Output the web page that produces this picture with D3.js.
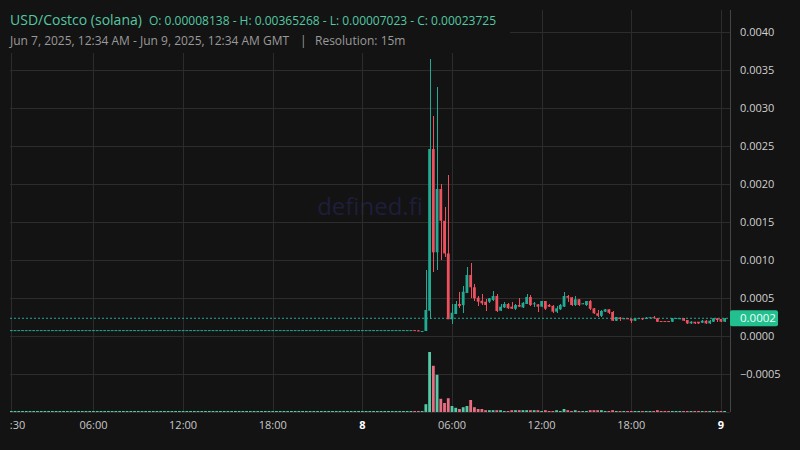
<!DOCTYPE html>
<html><head><meta charset="utf-8">
<script src="https://cdn.jsdelivr.net/npm/d3@7/dist/d3.min.js"></script>
<style>
html,body{margin:0;padding:0;background:#131313;}
svg{display:block;font-family:"Open Sans","Noto Sans",sans-serif;}
</style></head>
<body><svg id="c" width="800" height="450"></svg>
<script>
// ---- DATA ----
const startTime = Date.UTC(2025, 5, 7, 0, 30); // first 15m bar
const barMinutes = 15;
// flat (doji) bars, index 0..110: close values
const flatClose = [
0.0000814,0.0000814,0.0000814,0.0000814,0.0000814,0.0000814,0.0000814,0.0000814,0.0000814,0.0000814,
0.0000814,0.0000814,0.0000814,0.0000814,0.0000814,0.0000814,0.0000814,0.0000814,0.0000814,0.0000814,
0.0000814,0.0000814,0.0000814,0.0000814,0.0000814,0.0000814,0.0000814,0.0000814,0.0000814,0.0000814,
0.0000814,0.0000814,0.0000814,0.0000814,0.0000814,0.0000814,0.0000814,0.0000814,0.0000814,0.0000814,
0.0000814,0.0000814,0.0000814,0.0000814,0.0000814,0.0000814,0.0000814,0.0000814,0.0000814,0.0000814,
0.0000814,0.0000814,0.0000814,0.0000814,0.0000814,0.0000814,0.0000814,0.0000814,0.0000814,0.0000814,
0.0000814,0.0000814,0.0000814,0.0000814,0.0000814,0.0000814,0.0000814,0.0000814,0.0000814,0.0000814,
0.0000814,0.0000814,0.0000814,0.0000814,0.0000814,0.0000814,0.0000814,0.0000814,0.0000814,0.0000814,
0.0000814,0.0000814,0.0000814,0.0000814,0.0000814,0.0000814,0.0000814,0.0000814,0.0000814,0.0000814,
0.0000814,0.0000814,0.0000814,0.0000814,0.0000814,0.0000814,0.0000814,0.0000814,0.0000814,0.0000814,
0.0000814,0.0000814,0.0000814,0.0000814,0.0000814,0.0000814,0.0000814,0.0000814,0.0000770,0.0000702,
0.0000702
];
// active bars, index 111..191
const opens = [
0.00007,0.000337,0.002464,0.001105,0.001938,0.00152,0.00109,0.000224,0.000293,0.000425,
0.00041,0.00057,0.000807,0.000645,0.000508,0.000468,0.000455,0.000455,0.000478,0.00053,
0.000337,0.00038,0.000425,0.00039,0.000363,0.000412,0.00038,0.000425,0.000517,0.000428,
0.00042,0.00039,0.000464,0.000412,0.0004,0.000324,0.000355,0.00039,0.00053,0.000513,
0.000412,0.000487,0.000425,0.000412,0.000464,0.000368,0.000303,0.00027,0.000324,0.000355,
0.00032,0.000205,0.000245,0.000228,0.000237,0.000228,0.000205,0.000232,0.000237,0.000228,
0.00024,0.00025,0.000237,0.000201,0.000201,0.000201,0.000192,0.000232,0.000236,0.000237,
0.000214,0.00017,0.000192,0.000192,0.000179,0.000205,0.00017,0.000192,0.000237,0.000228,
0.000192
];
const highs = [
0.00087,0.00365268,0.002899,0.003284,0.002,0.0017,0.00212,0.00042,0.00047,0.000587,
0.00066,0.00091,0.00097,0.00069,0.00053,0.000557,0.00049,0.00051,0.0006,0.000557,
0.000425,0.00045,0.000434,0.00045,0.00042,0.0005,0.000455,0.000557,0.00054,0.000455,
0.00043,0.00047,0.00047,0.00042,0.00041,0.0004,0.00042,0.00058,0.00054,0.00052,
0.00053,0.00049,0.00044,0.00047,0.000478,0.00037,0.000346,0.00034,0.00036,0.00036,
0.00033,0.00026,0.00025,0.00024,0.00024,0.00023,0.00024,0.000245,0.00024,0.00025,
0.000255,0.000267,0.00024,0.000202,0.000202,0.000202,0.00024,0.000242,0.00024,0.00024,
0.000216,0.000195,0.000194,0.000194,0.00021,0.000208,0.00021,0.00024,0.00024,0.00023,
0.000245
];
const lows = [
0.00007023,0.000224,0.00085,0.000872,0.001004,0.00104,0.000224,0.00016,0.00029,0.00037,
0.00031,0.00057,0.0005,0.00046,0.0004,0.000412,0.000337,0.00044,0.00047,0.00032,
0.00033,0.00037,0.00036,0.00036,0.00035,0.00038,0.00037,0.00042,0.0004,0.00039,
0.000324,0.00038,0.00035,0.00038,0.00031,0.00031,0.00035,0.00038,0.000455,0.0004,
0.0004,0.0004,0.00042,0.0004,0.00035,0.00029,0.00026,0.00026,0.00032,0.0003,
0.000197,0.0002,0.000205,0.000225,0.000225,0.000179,0.0002,0.00023,0.00022,0.000225,
0.000238,0.000235,0.00019,0.000199,0.000199,0.000199,0.00019,0.00023,0.000234,0.0002,
0.000168,0.000168,0.000168,0.000168,0.000177,0.000168,0.000168,0.00019,0.000192,0.000192,
0.00019
];
const closes = [
0.000346,0.002464,0.001105,0.001938,0.00152,0.00109,0.000224,0.00031,0.000425,0.0004,
0.000587,0.000807,0.000645,0.0005,0.000455,0.000434,0.000412,0.0005,0.00053,0.000333,
0.00039,0.000425,0.00037,0.000363,0.000412,0.00039,0.00044,0.000517,0.000412,0.000434,
0.00039,0.000464,0.000363,0.00039,0.000324,0.000368,0.000412,0.00053,0.000508,0.000412,
0.000487,0.000412,0.000434,0.000464,0.000363,0.000303,0.00027,0.000333,0.000355,0.00031,
0.000205,0.000254,0.000228,0.000237,0.000228,0.000205,0.000237,0.00024,0.000224,0.000245,
0.00025,0.000237,0.000192,0.0002,0.0002,0.0002,0.000237,0.00024,0.000237,0.000205,
0.00017,0.000192,0.00017,0.00017,0.000205,0.00017,0.000205,0.000237,0.000214,0.000192,
0.00023725
];
// volume (relative units), index 0..191
const volumes = [
1.7,1.7,1.7,1.7,1.7,1.7,1.7,1.7,1.7,1.7,1.7,1.7,1.7,1.7,1.7,1.7,1.7,1.7,1.7,1.7,
1.7,1.7,1.7,1.7,1.7,1.7,1.7,1.7,1.7,1.7,1.7,1.7,1.7,1.7,1.7,1.7,1.7,1.7,1.7,1.7,
1.7,1.7,1.7,1.7,1.7,1.7,1.7,1.7,1.7,1.7,1.7,1.7,1.7,1.7,1.7,1.7,1.7,1.7,1.7,1.7,
1.7,1.7,1.7,1.7,1.7,1.7,1.7,1.7,1.7,1.7,1.7,1.7,1.7,1.7,1.7,1.7,1.7,1.7,1.7,1.7,
1.7,1.7,1.7,1.7,1.7,1.7,1.7,1.7,1.7,1.7,1.7,1.7,1.7,1.7,1.7,1.7,1.7,1.7,1.7,1.7,
1.7,1.7,1.7,1.7,1.7,1.7,1.7,1.7,1.7,1.7,1.7,
13,100,77,62,22,15,23,10,7,5,8,10,20,8,5,5,3,3,3,3,
3,1.7,1.7,3,3,3,3,3,3,3,3,1.7,3,1.7,1.7,3,1.7,5,3,1.7,
3,1.7,1.7,1.7,3,3,3,3,1.7,1.7,3,1.7,1.7,1.7,1.7,1.7,1.7,1.7,1.7,1.7,
1.7,1.7,3,1.7,1.7,1.7,1.7,1.7,1.7,1.7,1.7,1.7,1.7,1.7,1.7,1.7,1.7,1.7,1.7,1.7,
1.7
];
const yTicks = [-0.0005,0,0.0005,0.001,0.0015,0.002,0.0025,0.003,0.0035,0.004];
const xTicks = [Date.UTC(2025,5,7,0,30),Date.UTC(2025,5,7,6),Date.UTC(2025,5,7,12),Date.UTC(2025,5,7,18),
  Date.UTC(2025,5,8,0),Date.UTC(2025,5,8,6),Date.UTC(2025,5,8,12),Date.UTC(2025,5,8,18),Date.UTC(2025,5,9,0)];
const xTickLabels = ["00:30","06:00","12:00","18:00","8","06:00","12:00","18:00","9"];
const lastPrice = 0.00023725;
const lastPriceLabel = "0.0002";

// ---- BUILD ----
const candles = [];
flatClose.forEach((c, i) => {
  const o = i === 0 ? c : flatClose[i-1];
  candles.push({i, o, h: Math.max(o,c), l: Math.min(o,c), c});
});
closes.forEach((c, k) => {
  candles.push({i: flatClose.length + k, o: opens[k], h: highs[k], l: lows[k], c});
});
candles.forEach(d => { d.t = new Date(startTime + d.i*barMinutes*60000); d.v = volumes[d.i]; d.up = d.c >= d.o; });

const W = 800, H = 450;
const L = 10, R = 730, T = 10, B = 412;
const svg = d3.select("#c");
const bg = "#131313", grid = "#2c2c2c";
const upC = "#22ab94", dnC = "#f0505e", upV = "#55c9a6", dnV = "#e86d80";

svg.append("rect").attr("width",W).attr("height",H).attr("fill",bg);

const x = d3.scaleUtc().domain([new Date(Date.UTC(2025,5,7,0,30)), new Date(Date.UTC(2025,5,9,0,0))]).range([11.3, 720.9]);
const y = d3.scaleLinear().domain([0, 0.004]).range([336.3, 32.3]);
const yv = d3.scaleLinear().domain([0, 100]).range([B, 352]);
const step = x(new Date(startTime + barMinutes*60000)) - x(new Date(startTime));
const bw = step*0.75;

const defs = svg.append("defs");
defs.append("clipPath").attr("id","plot").append("rect").attr("x",L).attr("y",T).attr("width",R-L).attr("height",B-T);
defs.append("clipPath").attr("id","xax").append("rect").attr("x",L).attr("y",B).attr("width",R-L+20).attr("height",H-B);

// watermark
svg.append("text").attr("x",370).attr("y",215).attr("text-anchor","middle").attr("font-size",24)
  .attr("fill","#1e1e3a").text("defined.fi");

// grid
const g = svg.append("g").attr("clip-path","url(#plot)");
g.selectAll(".hg").data(yTicks).join("line").attr("x1",L).attr("x2",R)
  .attr("y1",d=>Math.round(y(d))+0.5).attr("y2",d=>Math.round(y(d))+0.5).attr("stroke",grid);
g.selectAll(".vg").data(xTicks).join("line").attr("y1",T).attr("y2",B)
  .attr("x1",d=>Math.round(x(new Date(d)))+0.5).attr("x2",d=>Math.round(x(new Date(d)))+0.5).attr("stroke",grid);

// volume
g.selectAll(".vol").data(candles).join("rect")
  .attr("x",d=>x(d.t)-bw/2).attr("width",bw)
  .attr("y",d=>yv(d.v)).attr("height",d=>B-yv(d.v))
  .attr("fill",d=>d.up?upV:dnV);

// last price line
g.append("line").attr("x1",L).attr("x2",R).attr("y1",y(lastPrice)).attr("y2",y(lastPrice))
  .attr("stroke",upC).attr("stroke-width",1).attr("stroke-dasharray","2,2");

// candles
const cg = g.selectAll(".cd").data(candles).join("g");
cg.append("line").attr("x1",d=>Math.round(x(d.t))+0.5).attr("x2",d=>Math.round(x(d.t))+0.5)
  .attr("y1",d=>y(d.h)).attr("y2",d=>y(d.l)).attr("stroke",d=>d.up?upC:dnC).attr("stroke-width",1)
  .attr("shape-rendering","crispEdges");
cg.append("rect").attr("x",d=>x(d.t)-bw/2).attr("width",bw)
  .attr("y",d=>Math.min(y(d.o),y(d.c)))
  .attr("height",d=>Math.max(1,Math.abs(y(d.o)-y(d.c))))
  .attr("fill",d=>d.up?upC:dnC);

// axes frame
svg.append("line").attr("x1",R+0.5).attr("x2",R+0.5).attr("y1",T).attr("y2",B).attr("stroke","#454545");
svg.append("line").attr("x1",L).attr("x2",R).attr("y1",B+0.5).attr("y2",B+0.5).attr("stroke","#2c2c2c");

// y axis labels
const fmt = d3.format(".4f");
svg.append("g").selectAll("text").data(yTicks).join("text")
  .attr("x",740).attr("y",d=>y(d)+4).attr("font-size",11).attr("fill","#d0d0d0").text(d=>fmt(d));

// x axis labels
svg.append("g").attr("clip-path","url(#xax)").selectAll("text").data(xTicks).join("text")
  .attr("x",(d)=>x(new Date(d))).attr("y",429).attr("text-anchor","middle").attr("font-size",11)
  .attr("fill",(d,i)=>xTickLabels[i].length===1?"#ffffff":"#c8c8c8")
  .attr("font-weight",(d,i)=>xTickLabels[i].length===1?"bold":"normal")
  .text((d,i)=>xTickLabels[i]);

// last price tag
svg.append("rect").attr("x",R).attr("y",y(lastPrice)-8).attr("width",48).attr("height",16).attr("rx",2).attr("fill","#22c08f");
svg.append("text").attr("x",740).attr("y",y(lastPrice)+4).attr("font-size",11.5).attr("fill","#f0fff8").text(lastPriceLabel);

// legend
svg.append("rect").attr("x",0).attr("y",0).attr("width",510).attr("height",53).attr("fill",bg);
const t1 = svg.append("text").attr("y",25).attr("fill","#55c8a4");
t1.append("tspan").attr("x",10).attr("font-size",14).text("USD/Costco (solana)");
t1.append("tspan").attr("x",149).attr("font-size",12).text("O: 0.00008138 - H: 0.00365268 - L: 0.00007023 - C: 0.00023725");
const t2 = svg.append("text").attr("y",45).attr("fill","#9a9a9a").attr("font-size",12);
t2.append("tspan").attr("x",10).text("Jun 7, 2025, 12:34 AM - Jun 9, 2025, 12:34 AM GMT");
t2.append("tspan").attr("x",300).text("|");
t2.append("tspan").attr("x",315).text("Resolution: 15m");
</script></body></html>
